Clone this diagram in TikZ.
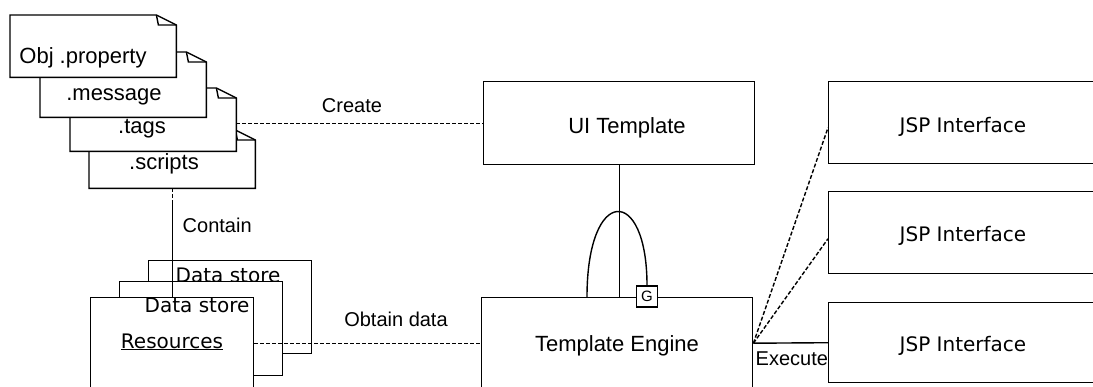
\documentclass[tikz,border=0pt]{standalone}
\usepackage{fontspec}
\setmainfont{Liberation Sans}
\newfontfamily\dvsans{DejaVu Sans}
\usetikzlibrary{calc}

% outline of a note with a folded top-right corner, drawn round a named node
\newcommand\noteoutline[1]{%
  \draw[fill=white] (#1.south west) -- (#1.north west) -- ([xshift=-20pt]#1.north east)
    -- ([yshift=-10pt]#1.north east) -- (#1.south east) -- cycle;
  \draw ([xshift=-20pt]#1.north east) -- ([xshift=-18pt,yshift=-10pt]#1.north east)
    -- ([yshift=-10pt]#1.north east);}

\begin{document}
\begin{tikzpicture}[x=1pt,y=-1pt,line width=1.4pt,
  frame/.style={draw,fill=white,anchor=north west,inner sep=0pt},
  notebox/.style={anchor=north west,inner sep=0pt,minimum width=165pt},
  big/.style={font=\fontsize{22}{26}\selectfont,inner sep=0pt},
  lbl/.style={font=\fontsize{20}{24}\selectfont,inner sep=0pt},
  dv/.style={font=\dvsans\fontsize{20}{24}\selectfont,inner sep=0pt},
  link/.style={dash pattern=on 4pt off 2pt},
]
\useasboundingbox (0,0) rectangle (1093,386);
\clip (0,0) rectangle (1093,386);

% stacked notes, back to front
\node[notebox,minimum height=57pt] (scripts) at (89,130) {};
\noteoutline{scripts}
\node[big,anchor=base] (scriptstxt) at (164,169) {.scripts};
\node[notebox,minimum height=62pt] (tags) at (70,88) {};
\noteoutline{tags}
\node[big,anchor=base] (tagstxt) at (142,133) {.tags};
\node[notebox,minimum height=64pt] (message) at (40,52) {};
\noteoutline{message}
\node[big,anchor=base] (messagetxt) at (114,100) {.message};
\node[notebox,minimum height=61pt] (obj) at (10,15) {};
\noteoutline{obj}
\node[big,anchor=base] (objtxt) at (83,63) {Obj .property};

% data stores
\node[frame,minimum width=163pt,minimum height=93pt] (store1) at (148,260) {};
\node[dv,anchor=base] (store1txt) at (228,282) {Data store};
\node[frame,minimum width=163pt,minimum height=94pt] (store2) at (119,281) {};
\node[frame,minimum width=163pt,minimum height=91pt] (res) at (90,297) {};
\node[dv,anchor=base] (restype) at (197,312) {Data store};
\node[dv,anchor=base] (restxt) at (172,348) {\underline{Resources}};

% template boxes
\node[frame,minimum width=271pt,minimum height=83pt] (ui) at (483,81) {};
\node[big,anchor=base] (uitxt) at (627,133) {UI Template};
\node[frame,minimum width=271pt,minimum height=91pt] (te) at (481,297) {};
\node[big,anchor=base] (tetxt) at (617,351) {Template Engine};

% interfaces
\node[frame,minimum width=300pt,minimum height=82pt] (jsp1) at (828,81) {};
\node[dv,anchor=base] (jsp1txt) at (963,132) {JSP Interface};
\node[frame,minimum width=300pt,minimum height=82pt] (jsp2) at (828,191) {};
\node[dv,anchor=base] (jsp2txt) at (963,241) {JSP Interface};
\node[frame,minimum width=300pt,minimum height=80pt] (jsp3) at (828,302) {};
\node[dv,anchor=base] (jsp3txt) at (963,351) {JSP Interface};

% connectors
\draw[link] (ui.west -| tags.east) -- (ui.west);
\node[lbl,anchor=base] (createlbl) at (352,112) {Create};

\draw[dash pattern=on 4pt off 2pt on 4pt off 2pt on 200pt off 1pt]
  (scripts.south) -- (scripts.south |- res.north);
\node[lbl,anchor=base west] (containlbl) at (182,232) {Contain};

\draw[link] (res.east) -- (te.west);
\node[lbl,anchor=base] (obtainlbl) at (396,326) {Obtain data};

\draw (ui.south) -- (ui.south |- te.north);
\coordinate (arcL) at (587,297);
\node[draw,fill=white,minimum size=21pt,inner sep=0pt,
  font=\fontsize{15}{15}\selectfont] (g) at (647,296.5) {G};
\draw (arcL) .. controls (587,185) and (647,185) .. (g.north);

\draw (te.east) -- (jsp3.west);
\node[lbl,anchor=base west] (execlbl) at (755,365) {Execute};
\draw[link] (te.east) -- ([yshift=-5pt]jsp1.west);
\draw[link] (te.east) -- ([yshift=-6pt]jsp2.west);
\end{tikzpicture}
\end{document}
